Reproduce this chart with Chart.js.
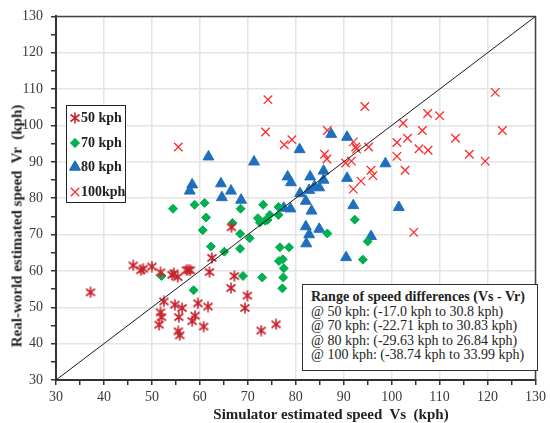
<!DOCTYPE html>
<html>
<head>
<meta charset="utf-8">
<script src="https://cdn.jsdelivr.net/npm/chart.js@4.4.1/dist/chart.umd.min.js"></script>
<style>
  body { margin: 0; background: #fff; }
  #wrap { position: relative; width: 550px; height: 423px; font-family: 'Liberation Serif', 'Times New Roman', serif; color: #222; }
  #chart { position: absolute; left: 0; top: 0; }
  .ttl { position: absolute; font-weight: bold; font-size: 15px; white-space: pre; color: #222; }
  #xTitle { left: 331px; top: 414px; transform: translate(-50%, -50%); }
  #yTitle { left: 17px; top: 226px; transform: translate(-50%, -50%) rotate(-90deg); }
  #legendBox { position: absolute; left: 66px; top: 105px; width: 58px; height: 96px; border: 1.5px solid #222; background: #fff; }
  .leg { position: absolute; left: 0; height: 20px; font-weight: bold; font-size: 14px; line-height: 20px; white-space: pre; }
  .leg canvas { position: absolute; left: 0; top: 2px; }
  .leg span { position: absolute; left: 13px; top: 0; }
  #rangeBox { position: absolute; left: 302px; top: 284px; width: 226px; height: 80px; border: 1.5px solid #333; background: #fff; padding: 5px 0 0 8px; font-size: 14px; line-height: 14.5px; white-space: pre; }
  #rangeBox b { display: block; }
</style>
</head>
<body>
<div id="wrap">
  <canvas id="chart" width="550" height="423"></canvas>
  <div class="ttl" id="xTitle">Simulator estimated speed  Vs  (kph)</div>
  <div class="ttl" id="yTitle">Real-world estimated speed  Vr  (kph)</div>
  <div id="legendBox"></div>
  <div id="rangeBox"><b>Range of speed differences (Vs - Vr)</b>@ 50 kph: (-17.0 kph to 30.8 kph)
@ 70 kph: (-22.71 kph to 30.83 kph)
@ 80 kph: (-29.63 kph to 26.84 kph)
@ 100 kph: (-38.74 kph to 33.99 kph)</div>
</div>
<script>
// simulator speed (Vs) and real-world speed (Vr) for each speed group
const vs50 = [37.2, 46.1, 47.7, 48.2, 50.0, 51.8, 54.2, 54.6, 55.4, 57.2, 57.6, 58.0, 62.0, 62.5, 66.6, 67.2, 66.5, 69.9, 69.4, 72.8, 75.9,
              52.5, 51.8, 52.0, 51.5, 54.8, 56.3, 55.6, 55.5, 55.8, 58.4, 59.0, 59.6, 60.8, 61.7];
const vr50 = [54.1, 61.5, 60.2, 60.6, 61.2, 59.6, 58.9, 59.3, 58.3, 60.2, 60.3, 60.2, 59.7, 63.6, 72.0, 58.6, 55.3, 53.2, 49.8, 43.6, 45.3,
              51.6, 48.6, 47.3, 45.2, 50.7, 49.8, 47.3, 43.4, 42.3, 46.2, 47.7, 51.1, 44.7, 50.2];

const vs70 = [52.0, 54.4, 58.7, 58.9, 61.0, 61.3, 60.6, 62.3, 65.1, 66.8, 68.5, 68.4, 68.4, 70.4, 69.0, 73.2, 72.1, 72.5, 73.6, 74.1, 74.6,
              73.0, 76.4, 76.4, 76.7, 78.6, 76.5, 77.3, 77.5, 77.4, 77.2, 86.6, 92.3, 95.0, 94.0];
const vr70 = [58.6, 77.1, 54.7, 78.2, 78.7, 74.7, 71.2, 66.7, 65.3, 73.2, 77.1, 70.2, 66.1, 69.0, 58.6, 78.2, 74.5, 73.3, 73.8, 74.0, 75.4,
              58.2, 77.6, 75.4, 66.5, 66.5, 62.7, 63.2, 60.7, 58.2, 55.2, 70.3, 74.1, 68.1, 63.1];

const vs80 = [57.9, 58.4, 61.8, 64.4, 64.6, 66.5, 68.6, 71.3, 77.5, 78.9, 78.3, 79.0, 80.8, 80.9, 82.1, 83.3, 83.0, 82.8, 83.9, 84.9,
              85.8, 85.8, 87.4, 90.7, 90.7, 92.0, 98.7, 101.5, 82.1, 82.8, 84.9, 82.2, 95.7, 90.5];
const vr80 = [82.0, 83.7, 91.4, 84.0, 80.2, 82.0, 79.5, 90.0, 77.3, 77.1, 85.9, 84.3, 93.4, 81.3, 79.2, 76.5, 85.9, 82.2, 83.2, 82.9,
              85.0, 87.5, 97.6, 96.8, 85.5, 78.0, 89.5, 77.5, 72.2, 70.0, 71.5, 67.5, 69.5, 63.7];

const vs100 = [55.5, 74.2, 73.7, 77.6, 79.2, 86.6, 94.4, 86.0, 86.5, 92.0, 92.5, 92.7, 95.2, 90.4, 91.6, 95.7, 96.1, 93.6, 92.0,
               102.4, 107.5, 110.0, 101.1, 103.3, 106.4, 101.1, 105.7, 107.6, 102.8, 113.3, 116.2, 119.5, 121.6, 123.1, 104.6];
const vr100 = [94.1, 107.1, 98.2, 94.7, 96.1, 98.6, 105.2, 92.1, 90.8, 95.5, 94.1, 93.5, 94.1, 89.7, 90.2, 87.7, 86.2, 84.7, 82.5,
               100.6, 103.3, 102.7, 95.3, 96.5, 98.6, 91.5, 93.6, 93.2, 87.7, 96.5, 92.1, 90.2, 109.1, 98.6, 70.6];

const seriesNames = ['50 kph', '70 kph', '80 kph', '100kph'];
const axisRange = [30, 130];   // both axes, also the Vs = Vr line

function pairs(xs, ys) {
  return xs.map((x, i) => ({ x: x, y: ys[i] }));
}

// asterisk marker for the 50 kph group
function makeAsterisk(color) {
  const c = document.createElement('canvas');
  c.width = 12; c.height = 12;
  const g = c.getContext('2d');
  g.strokeStyle = color;
  g.lineWidth = 1.6;
  g.beginPath();
  g.moveTo(6, 0.5); g.lineTo(6, 11.5);
  g.moveTo(1.5, 2.5); g.lineTo(10.5, 9.5);
  g.moveTo(10.5, 2.5); g.lineTo(1.5, 9.5);
  g.stroke();
  return c;
}

const star50 = makeAsterisk('#c8232c');

const markers = [
  { pointStyle: star50, radius: 6, color: '#c8232c', borderWidth: 1 },
  { pointStyle: 'rectRot', radius: 4.5, color: '#00b050', borderWidth: 1 },
  { pointStyle: 'triangle', radius: 6.3, color: '#1f6fbd', borderWidth: 1 },
  { pointStyle: 'crossRot', radius: 6, color: '#ff2a2a', borderWidth: 1.3 }
];
const groups = [pairs(vs50, vr50), pairs(vs70, vr70), pairs(vs80, vr80), pairs(vs100, vr100)];

const datasets = groups.map((pts, i) => ({
  type: 'scatter',
  label: seriesNames[i],
  data: pts,
  pointStyle: markers[i].pointStyle,
  pointRadius: markers[i].radius,
  pointBackgroundColor: markers[i].color,
  pointBorderColor: markers[i].color,
  pointBorderWidth: markers[i].borderWidth,
  order: 2
}));

datasets.push({
  type: 'line',
  label: 'Vs = Vr',
  data: [{ x: axisRange[0], y: axisRange[0] }, { x: axisRange[1], y: axisRange[1] }],
  borderColor: '#1a1a1a',
  borderWidth: 1,
  pointRadius: 0,
  order: 1
});

// thin frame on top and right of the plot
const framePlugin = {
  id: 'frame',
  beforeDatasetsDraw(chart) {
    const a = chart.chartArea, ctx = chart.ctx;
    ctx.save();
    ctx.strokeStyle = '#444';
    ctx.lineWidth = 1.5;
    ctx.beginPath();
    ctx.moveTo(a.left, a.top);
    ctx.lineTo(a.right, a.top);
    ctx.lineTo(a.right, a.bottom);
    ctx.stroke();
    ctx.restore();
  }
};

const tickFont = { family: "'Liberation Serif', serif", size: 14 };

function axisOpts(fitFn) {
  return {
    type: 'linear',
    min: axisRange[0],
    max: axisRange[1],
    ticks: {
      stepSize: 5,
      autoSkip: false,
      maxRotation: 0,
      font: tickFont,
      color: '#3a3a3a',
      padding: 4,
      callback: v => (v % 10 === 0 ? v : '')
    },
    grid: {
      color: c => (c.tick && c.tick.value % 10 === 0 ? '#e4e4e4' : 'rgba(0,0,0,0)'),
      lineWidth: 1.5,
      tickColor: '#333',
      tickLength: 5
    },
    border: { display: true, color: '#333', width: 2 },
    afterFit: fitFn
  };
}

const xOpts = axisOpts(s => { s.height = 43; });
const yOpts = axisOpts(s => { s.width = 56; });
yOpts.ticks.padding = 8;

new Chart(document.getElementById('chart').getContext('2d'), {
  data: { datasets: datasets },
  options: {
    responsive: false,
    animation: false,
    layout: { padding: { top: 13, right: 10, left: 0, bottom: 0 } },
    plugins: { legend: { display: false }, tooltip: { enabled: false } },
    scales: { x: xOpts, y: yOpts }
  },
  plugins: [framePlugin]
});

// legend box, markers drawn with the chart's own point routine
const legendBox = document.getElementById('legendBox');
seriesNames.forEach((name, i) => {
  const row = document.createElement('div');
  row.className = 'leg';
  row.style.top = (2 + i * 24.5) + 'px';
  const c = document.createElement('canvas');
  c.width = 14; c.height = 16;
  row.appendChild(c);
  const sp = document.createElement('span');
  sp.textContent = name;
  row.appendChild(sp);
  row.style.left = '1px';
  legendBox.appendChild(row);
  const g = c.getContext('2d');
  g.fillStyle = markers[i].color;
  g.strokeStyle = markers[i].color;
  g.lineWidth = markers[i].borderWidth;
  Chart.helpers.drawPoint(g, {
    pointStyle: markers[i].pointStyle,
    radius: markers[i].radius,
    rotation: 0,
    borderWidth: markers[i].borderWidth
  }, 7, 8);
  if (markers[i].pointStyle !== 'crossRot') g.fill();
});
</script>
</body>
</html>
